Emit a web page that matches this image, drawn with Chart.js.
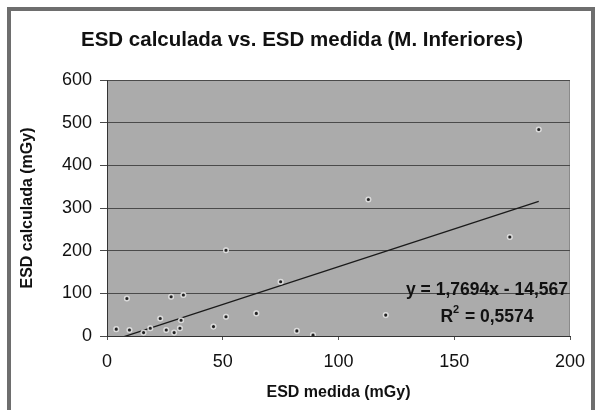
<!DOCTYPE html>
<html>
<head>
<meta charset="utf-8">
<script src="https://cdn.jsdelivr.net/npm/chart.js@4.4.1/dist/chart.umd.min.js"></script>
<style>
  html, body { margin: 0; padding: 0; background: #fff; }
  #wrap { width: 600px; height: 410px; }
</style>
</head>
<body>
<div id="wrap"><canvas id="esdChart"></canvas></div>
<script>
// ESD medida (mGy) vs ESD calculada (mGy)
var medida    = [4, 8.6, 9.7, 15.8, 18.7, 23, 25.6, 27.7, 29, 31.5, 32, 33, 46, 51.4, 51.4, 64.5, 75, 82, 89, 112.9, 120.4, 174, 186.5];
var calculada = [16, 88, 14, 8, 18, 41, 14, 92, 8, 18, 37, 96, 22, 201, 45, 53, 127, 12, 2, 320, 49, 232, 484];
var xTicks = [0, 50, 100, 150, 200];
var yTicks = [0, 100, 200, 300, 400, 500, 600];
var slope = 1.7694;
var intercept = -14.567;
var eqLabel = "y = 1,7694x - 14,567";
var r2Label = "0,5574";

var points = [];
for (var i = 0; i < medida.length; i++) {
  points.push({ x: medida[i], y: calculada[i] });
}
var xMin = Math.min.apply(null, medida);
var xMax = Math.max.apply(null, medida);
var trend = [
  { x: xMin, y: slope * xMin + intercept },
  { x: xMax, y: slope * xMax + intercept }
];

var FONT = "'Liberation Sans', Arial, sans-serif";

// frame, gray plot area and the trendline equation
var backdrop = {
  id: "backdrop",
  beforeDraw: function (chart) {
    var c = chart.ctx, a = chart.chartArea;
    c.save();
    c.fillStyle = "#fff";
    c.fillRect(0, 0, chart.width, chart.height);
    c.strokeStyle = "#6e6e6e";
    c.lineWidth = 4;
    c.strokeRect(9, 9, 584, 430);
    c.fillStyle = "#ababab";
    c.fillRect(a.left, a.top, a.right - a.left, a.bottom - a.top);
    c.strokeStyle = "#8a8a8a";
    c.lineWidth = 1;
    c.strokeRect(a.left + 0.5, a.top + 0.5, a.right - a.left - 1, a.bottom - a.top);
    c.restore();
  },
  afterDatasetsDraw: function (chart) {
    var c = chart.ctx, a = chart.chartArea;
    c.save();
    c.fillStyle = "#111";
    c.font = "bold 17.5px " + FONT;
    c.textBaseline = "middle";
    c.textAlign = "right";
    c.fillText(eqLabel, a.right - 2, a.bottom - 46);
    var w1 = c.measureText(eqLabel).width;
    var cx = a.right - 2 - w1 / 2;
    var rTxt = "R", rest = " = " + r2Label;
    var wR = c.measureText(rTxt).width;
    var wRest = c.measureText(rest).width;
    var start = cx - (wR + 7 + wRest) / 2;
    var ly = a.bottom - 19;
    c.textAlign = "left";
    c.fillText(rTxt, start, ly);
    c.font = "bold 11px " + FONT;
    c.fillText("2", start + wR, ly - 7);
    c.font = "bold 17.5px " + FONT;
    c.fillText(rest, start + wR + 7, ly);
    c.restore();
  }
};

Chart.defaults.font.family = FONT;
Chart.defaults.color = "#111";

new Chart(document.getElementById("esdChart"), {
  type: "scatter",
  data: {
    datasets: [
      {
        label: "ESD",
        data: points,
        pointRadius: 2.3,
        pointBackgroundColor: "#222",
        pointBorderColor: "rgba(235,235,235,0.85)",
        pointBorderWidth: 1.5,
        order: 1
      },
      {
        label: "Lineal",
        type: "line",
        data: trend,
        borderColor: "#1a1a1a",
        borderWidth: 1.3,
        pointRadius: 0,
        fill: false,
        order: 2
      }
    ]
  },
  options: {
    responsive: true,
    maintainAspectRatio: false,
    animation: false,
    layout: { padding: { left: 14, right: 10, top: 0, bottom: 0 } },
    plugins: {
      legend: { display: false },
      tooltip: { enabled: false },
      title: {
        display: true,
        text: "ESD calculada vs. ESD medida (M. Inferiores)",
        font: { size: 20.5, weight: "bold" },
        color: "#111",
        padding: { top: 28.4, bottom: 27 }
      }
    },
    scales: {
      x: {
        type: "linear",
        min: 0,
        max: 200,
        afterBuildTicks: function (s) { s.ticks = xTicks.map(function (v) { return { value: v }; }); },
        afterFit: function (s) { s.height = 74; },
        ticks: { font: { size: 18 }, color: "#111", padding: 11, maxRotation: 0 },
        grid: { drawOnChartArea: false, tickLength: 4, color: "#555" },
        border: { color: "#333", width: 1 },
        title: {
          display: true,
          text: "ESD medida (mGy)",
          font: { size: 16, weight: "bold" },
          color: "#111",
          padding: { top: 0, bottom: 7.4 }
        }
      },
      y: {
        min: 0,
        max: 600,
        afterBuildTicks: function (s) { s.ticks = yTicks.map(function (v) { return { value: v }; }); },
        afterFit: function (s) { s.width = 93; },
        ticks: { font: { size: 18 }, color: "#111", padding: 8 },
        grid: { color: "#4a4a4a", lineWidth: 1, tickLength: 7 },
        border: { color: "#333", width: 1 },
        title: {
          display: true,
          text: "ESD calculada (mGy)",
          font: { size: 16, weight: "bold" },
          color: "#111",
          padding: { top: 4.4, bottom: 0 }
        }
      },
      // empty right-hand box that keeps the plot edge at the reference position
      spacer: {
        type: "linear",
        position: "right",
        display: true,
        ticks: { display: false },
        grid: { display: false },
        border: { display: false },
        afterFit: function (s) { s.width = 20; }
      }
    }
  },
  plugins: [backdrop]
});
</script>
</body>
</html>
